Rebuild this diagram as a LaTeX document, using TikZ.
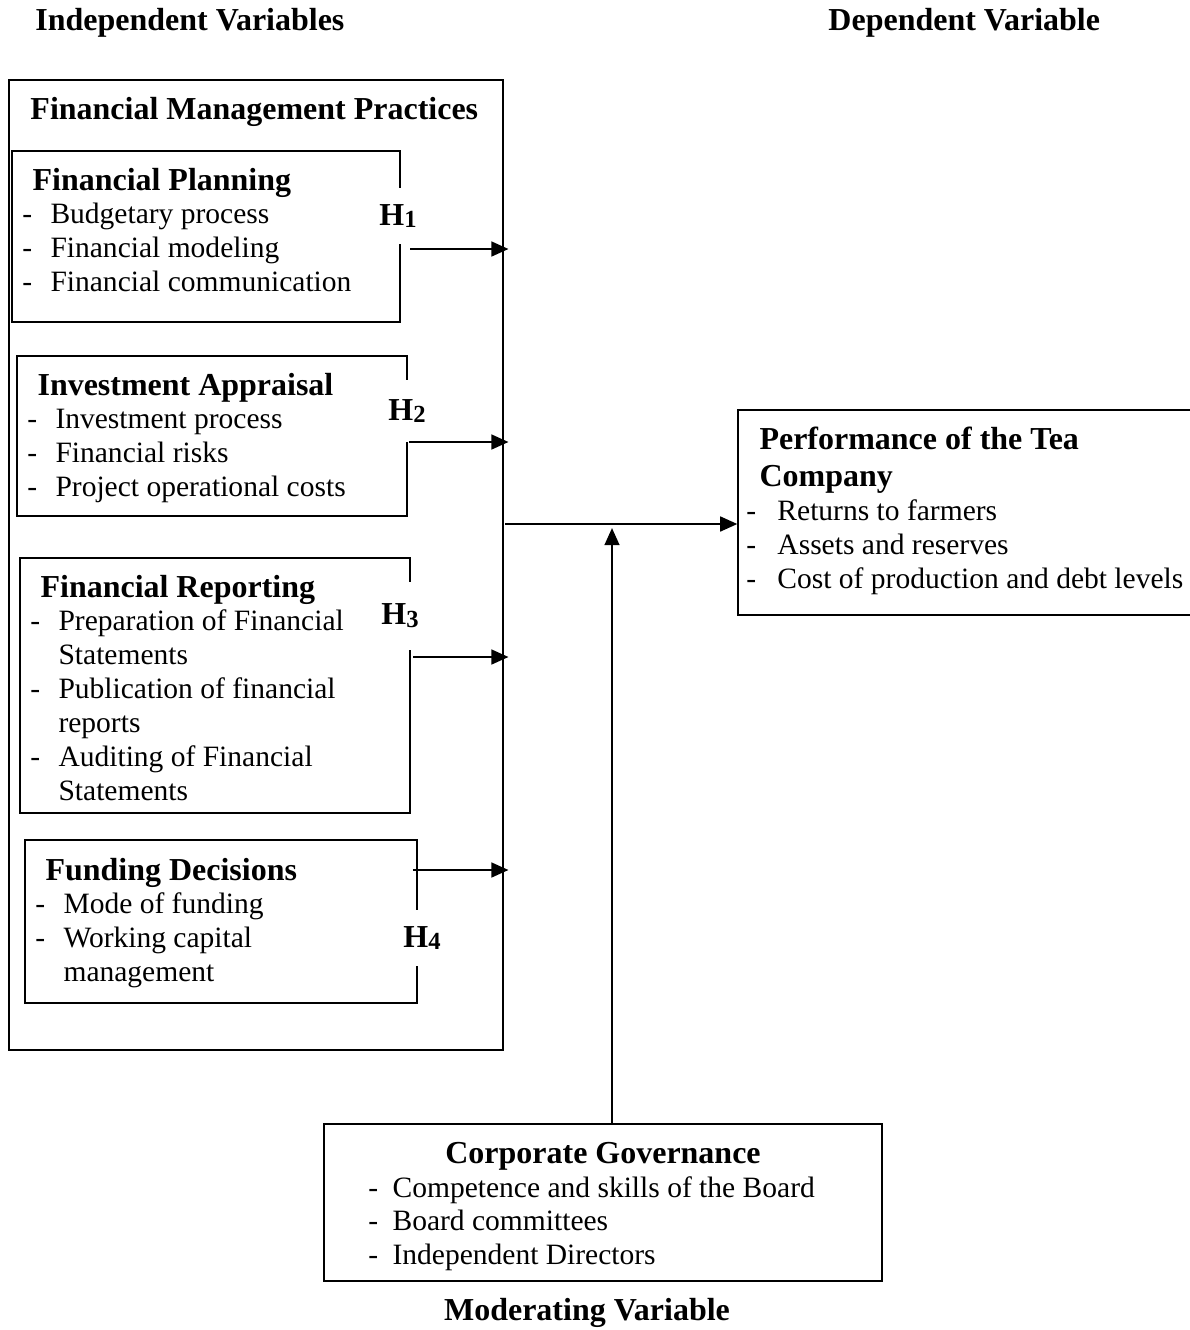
\documentclass[tikz,border=0pt]{standalone}
\usepackage{fontspec}
\setmainfont{Liberation Serif}
\usetikzlibrary{fit,arrows.meta}
\newcommand{\hd}{\fontsize{13}{15}\selectfont\bfseries}
\newcommand{\bd}{\fontsize{12}{13.8}\selectfont}
\newcommand{\hyp}[1]{H\raisebox{-0.2ex}{\fontsize{10}{12}\selectfont #1}}
\tikzset{
  % boxes, texts and arrows of the framework
  frame box/.style={rectangle,draw,line width=0.5pt,inner sep=0},
  list text/.style={anchor=base west,inner sep=0,font=\bd},
  title text/.style={anchor=base west,inner sep=0,font=\hd},
  hyp label/.style={fill=white,inner sep=0,minimum width=15pt,font=\hd},
  link/.style={-{Triangle[length=7pt,width=6pt]},line width=1pt}
}

\begin{document}
\begin{tikzpicture}[x=0.4065pt,y=-0.4065pt]
  \useasboundingbox (0,0) rectangle (1190,1330);
  % column titles
  \node[title text] (iv) at (35,30) {Independent Variables};
  \node[title text] (dv) at (828,30) {Dependent Variable};
  \node[title text,anchor=base] (mv) at (587,1320) {Moderating Variable};
  % outer box
  \node[frame box,fit={(9,80) (503,1050)}] (fmp) {};
  \node[title text] (fmp title) at (30,119) {Financial Management Practices};
  % the four practices
  \node[frame box,fit={(12,151) (400,322)}] (fp) {};
  \node[list text] (fp text) at (22,190) {\begin{tabular}[t]{@{}p{11.4pt}@{}l@{}}
    \multicolumn{2}{@{\hspace{4.1pt}}l@{}}{\hd Financial Planning}\\
    - & Budgetary process\\
    - & Financial modeling\\
    - & Financial communication
  \end{tabular}};
  \node[frame box,fit={(17,356) (407,516)}] (ia) {};
  \node[list text] (ia text) at (27,395) {\begin{tabular}[t]{@{}p{11.4pt}@{}l@{}}
    \multicolumn{2}{@{\hspace{4.1pt}}l@{}}{\hd Investment Appraisal}\\
    - & Investment process\\
    - & Financial risks\\
    - & Project operational costs
  \end{tabular}};
  \node[frame box,fit={(20,558) (410,813)}] (fr) {};
  \node[list text] (fr text) at (30,597) {\begin{tabular}[t]{@{}p{11.4pt}@{}l@{}}
    \multicolumn{2}{@{\hspace{4.1pt}}l@{}}{\hd Financial Reporting}\\
    - & Preparation of Financial\\
      & Statements\\
    - & Publication of financial\\
      & reports\\
    - & Auditing of Financial\\
      & Statements
  \end{tabular}};
  \node[frame box,fit={(25,840) (417,1003)}] (fd) {};
  \node[list text] (fd text) at (35,880) {\begin{tabular}[t]{@{}p{11.4pt}@{}l@{}}
    \multicolumn{2}{@{\hspace{4.1pt}}l@{}}{\hd Funding Decisions}\\
    - & Mode of funding\\
    - & Working capital\\
      & management
  \end{tabular}};
  % hypotheses
  \node[hyp label,minimum height=23pt] (h1) at (398,216) {\hyp{1}};
  \node[hyp label,minimum height=25pt] (h2) at (407,411) {\hyp{2}};
  \node[hyp label,minimum height=28pt] (h3) at (400,616) {\hyp{3}};
  \node[hyp label,minimum height=23pt] (h4) at (422,938) {\hyp{4}};
  % dependent variable
  \node[frame box,fit={(738,410) (1200,615)}] (perf) {};
  \node[list text] (perf text) at (746,449) {\begin{tabular}[t]{@{}p{12.6pt}@{}l@{}}
    \multicolumn{2}{@{\hspace{5.3pt}}l@{}}{\hd Performance of the Tea}\\[1.6pt]
    \multicolumn{2}{@{\hspace{5.3pt}}l@{}}{\hd Company}\\
    - & Returns to farmers\\
    - & Assets and reserves\\
    - & Cost of production and debt levels
  \end{tabular}};
  % moderating variable
  \node[frame box,fit={(324,1124) (882,1281)}] (cg) {};
  \node[title text,anchor=base] (cg title) at (603,1163) {Corporate Governance};
  \node[list text] (cg text) at (368,1197) {\begin{tabular}[t]{@{}p{9.8pt}@{}l@{}}
    - & Competence and skills of the Board\\
    - & Board committees\\
    - & Independent Directors
  \end{tabular}};
  % arrows
  \coordinate (a1) at (410,249);
  \coordinate (a2) at (409,442);
  \coordinate (a3) at (413,657);
  \coordinate (a4) at (413,870);
  \foreach \a in {a1,a2,a3,a4}
    \draw[link] (\a) -- ([xshift=2pt]\a -| fmp.east);
  \coordinate (m0) at (505,524);
  \draw[link] (m0) -- (m0 -| perf.west);
  \coordinate (m1) at (612,528);
  \draw[link] (m1 |- cg.north) -- (m1);
\end{tikzpicture}
\end{document}
